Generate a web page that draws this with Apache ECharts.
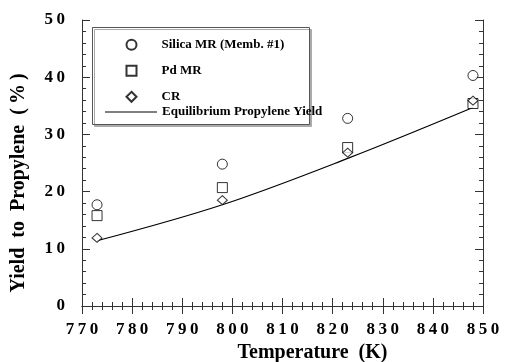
<!DOCTYPE html>
<html>
<head>
<meta charset="utf-8">
<script src="https://cdn.jsdelivr.net/npm/echarts@6/dist/echarts.min.js"></script>
<style>html,body{margin:0;padding:0;background:#fff}#c{width:505px;height:362px}</style>
</head>
<body>
<div id="c"></div>
<script>
const temps = [773, 798, 823, 848];
const silicaMR = [17.7, 24.8, 32.8, 40.3];
const pdMR = [15.8, 20.7, 27.7, 35.4];
const cr = [11.9, 18.5, 26.8, 35.9];
const eqTemps = [773, 798, 823, 848];
const eqYield = [11.4, 17.7, 25.8, 34.7];
const seriesNames = ['Silica MR (Memb. #1)', 'Pd MR', 'CR', 'Equilibrium Propylene Yield'];
const xTitle = 'Temperature  (K)';
const yTitle = 'Yield  to  Propylene  (\u2009%\u2009)';

const FONT = 'Liberation Serif';
const spaced = v => String(v).split('').join('\u2009');
const pairs = (xs, ys) => xs.map((x, i) => [x, ys[i]]);

const axisCommon = {
  axisLine: { show: true, lineStyle: { color: '#333', width: 1 } },
  axisTick: { show: true, inside: true, length: 8, lineStyle: { color: '#333' } },
  minorTick: { show: true, splitNumber: 5, length: 4, lineStyle: { color: '#333' } },
  splitLine: { show: false },
  minorSplitLine: { show: false }
};

const chart = echarts.init(document.getElementById('c'));
chart.setOption({
  animation: false,
  backgroundColor: '#fff',
  grid: { left: 82, right: 22, top: 20, height: 286, containLabel: false, outerBoundsMode: 'none' },
  xAxis: [
    Object.assign({}, axisCommon, {
      type: 'value', position: 'bottom', min: 770, max: 850, interval: 10,
      axisLabel: { margin: 15, fontFamily: FONT, fontWeight: 'bold', fontSize: 17, color: '#000', formatter: spaced },
      name: xTitle, nameLocation: 'middle', nameGap: 36,
      nameTextStyle: { fontFamily: FONT, fontWeight: 'bold', fontSize: 20, color: '#000', padding: [0, 0, 0, 60] }
    }),
    Object.assign({}, axisCommon, {
      type: 'value', position: 'top', min: 770, max: 850, interval: 10,
      axisLabel: { show: false }
    })
  ],
  yAxis: [
    Object.assign({}, axisCommon, {
      type: 'value', position: 'left', min: 0, max: 50, interval: 10,
      axisLabel: { margin: 17, fontFamily: FONT, fontWeight: 'bold', fontSize: 17, color: '#000', formatter: spaced },
      name: yTitle, nameLocation: 'middle', nameGap: 53,
      nameTextStyle: { fontFamily: FONT, fontWeight: 'bold', fontSize: 20, color: '#000', padding: [0, 40, 0, 0] }
    }),
    Object.assign({}, axisCommon, {
      type: 'value', position: 'right', min: 0, max: 50, interval: 10,
      axisLabel: { show: false }
    })
  ],
  graphic: [{
    type: 'rect', left: 92, top: 27, z: 1,
    shape: { width: 217, height: 97 },
    style: { fill: '#fff', stroke: '#555', lineWidth: 1, shadowColor: '#aaa', shadowOffsetX: 2, shadowOffsetY: 2, shadowBlur: 0 }
  }],
  legend: [{
    data: seriesNames.slice(0, 3), orient: 'vertical', left: 125.5, top: 38.3,
    itemWidth: 10, itemHeight: 10, itemGap: 13, padding: 0, z: 5,
    textStyle: { fontFamily: FONT, fontWeight: 'bold', fontSize: 13, color: '#000', padding: [0, 0, 0, 20] }
  }, {
    data: [{ name: seriesNames[3], icon: 'rect' }], orient: 'vertical', left: 105, top: 105.5,
    itemWidth: 52, itemHeight: 1.2, padding: 0, z: 5,
    textStyle: { fontFamily: FONT, fontWeight: 'bold', fontSize: 13, color: '#000' }
  }],
  series: [
    { name: seriesNames[3], type: 'line', smooth: 0.35, symbol: 'none', data: pairs(eqTemps, eqYield),
      lineStyle: { color: '#000', width: 1.2 }, itemStyle: { color: '#000' }, z: 2 },
    { name: seriesNames[0], type: 'scatter', symbol: 'circle', symbolSize: 10, data: pairs(temps, silicaMR),
      itemStyle: { color: '#fff', borderColor: '#000', borderWidth: 1 }, z: 3 },
    { name: seriesNames[1], type: 'scatter', symbol: 'rect', symbolSize: 10, data: pairs(temps, pdMR),
      itemStyle: { color: '#fff', borderColor: '#000', borderWidth: 1 }, z: 3 },
    { name: seriesNames[2], type: 'scatter', symbol: 'diamond', symbolSize: [10, 9], data: pairs(temps, cr),
      itemStyle: { color: '#fff', borderColor: '#000', borderWidth: 1 }, z: 4 }
  ]
});
</script>
</body>
</html>
